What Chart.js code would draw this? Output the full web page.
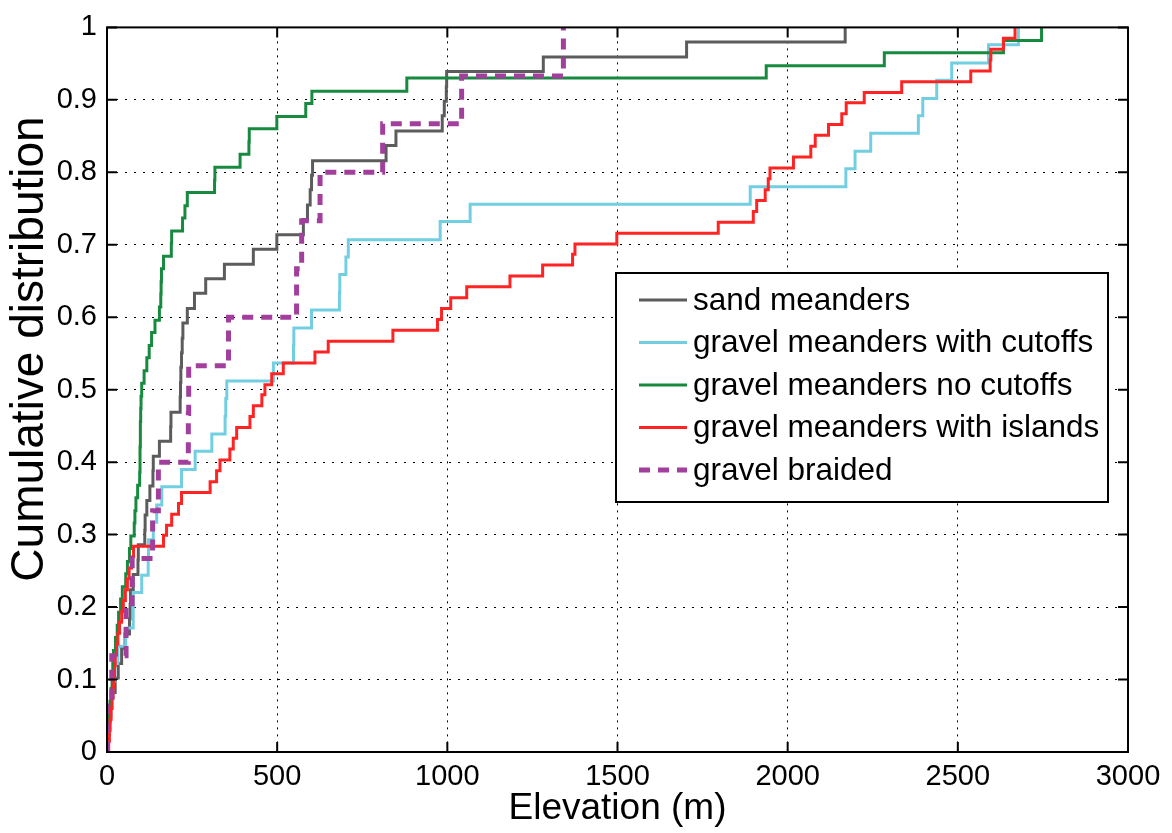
<!DOCTYPE html>
<html>
<head>
<meta charset="utf-8">
<script src="https://cdn.jsdelivr.net/npm/chart.js@4.4.1/dist/chart.umd.min.js"></script>
<style>
  body { margin: 0; background: #fff; }
  #wrap { width: 1172px; height: 833px; position: relative; }
</style>
</head>
<body>
<div id="wrap"><canvas id="chart"></canvas></div>
<script>
// Empirical CDFs: each x is where the step up happens, each y the level reached there
const sandX = [0, 2, 5, 9, 13, 24, 33, 43, 53, 66, 68, 69, 77, 91, 92, 111, 112, 117, 126, 135, 136, 154, 187, 188, 215, 216, 217, 219, 221, 223, 236, 257, 290, 345, 430, 499, 577, 589, 597, 601, 604, 820, 849, 985, 991, 997, 998, 1282, 1703, 2169];
const sandY = [0, .020, .041, .061, .082, .102, .122, .143, .163, .184, .204, .224, .245, .265, .286, .306, .327, .347, .367, .388, .408, .429, .449, .469, .490, .510, .531, .551, .571, .592, .612, .633, .653, .673, .694, .714, .735, .755, .776, .796, .816, .837, .857, .878, .898, .918, .939, .959, .980, 1];

const cutoffX = [0, 4, 8, 12, 17, 23, 32, 55, 77, 77, 102, 121, 122, 136, 146, 161, 219, 259, 308, 347, 349, 352, 489, 548, 549, 601, 683, 684, 702, 709, 979, 1067, 1890, 2171, 2198, 2244, 2384, 2397, 2438, 2482, 2590, 2678];
const cutoffY = [0, .024, .049, .073, .098, .122, .146, .171, .195, .220, .244, .268, .293, .317, .341, .366, .390, .415, .439, .463, .488, .512, .537, .561, .585, .610, .634, .659, .683, .707, .732, .756, .780, .805, .829, .854, .878, .902, .927, .951, .976, 1];

const noCutoffX = [0, 3, 5, 7, 9, 12, 15, 17, 19, 25, 30, 34, 40, 45, 55, 60, 66, 70, 80, 82, 85, 90, 96, 97, 97, 98, 98, 99, 100, 102, 109, 117, 124, 131, 141, 154, 158, 159, 160, 166, 189, 190, 222, 229, 236, 316, 317, 391, 417, 418, 499, 584, 602, 881, 1937, 2284, 2634, 2746];
const noCutoffY = [0, .018, .035, .053, .070, .088, .105, .123, .140, .158, .175, .193, .211, .228, .246, .263, .281, .298, .316, .333, .351, .368, .386, .404, .421, .439, .456, .474, .491, .509, .526, .544, .561, .579, .596, .614, .632, .649, .667, .684, .702, .719, .737, .754, .772, .789, .807, .825, .842, .860, .877, .895, .912, .930, .947, .965, .982, 1];

const islandX = [0, 5, 7, 9, 12, 15, 18, 20, 22, 24, 28, 32, 37, 43, 48, 54, 60, 65, 72, 78, 166, 175, 190, 210, 219, 303, 322, 332, 361, 371, 381, 420, 430, 455, 464, 484, 518, 611, 650, 840, 971, 983, 1010, 1057, 1184, 1280, 1368, 1375, 1498, 1796, 1899, 1909, 1934, 1943, 1948, 2017, 2068, 2081, 2120, 2159, 2172, 2225, 2335, 2538, 2595, 2597, 2634, 2668];
const islandY = [0, .015, .030, .045, .060, .075, .090, .104, .119, .134, .149, .164, .179, .194, .209, .224, .239, .254, .269, .284, .299, .313, .328, .343, .358, .373, .388, .403, .418, .433, .448, .463, .478, .493, .507, .522, .537, .552, .567, .582, .597, .612, .627, .642, .657, .672, .687, .701, .716, .731, .746, .761, .776, .791, .806, .821, .836, .851, .866, .881, .896, .910, .925, .940, .955, .970, .985, 1];

const braidedX = [0, 1, 14, 56, 74, 134, 151, 239, 240, 357, 557, 572, 626, 810, 1042, 1341];
const braidedY = [0, .067, .133, .200, .267, .333, .400, .467, .533, .600, .667, .733, .800, .867, .933, 1];

const xTicks = [0, 500, 1000, 1500, 2000, 2500, 3000];
const FONT = '"Liberation Sans", Arial, sans-serif';

function toPoints(xs, ys) {
  return xs.map((x, i) => ({x: x, y: ys[i]}));
}

// box round the plot with inward tick marks, like the original
const frame = {
  id: 'frame',
  afterDatasetsDraw(chart) {
    const {ctx, chartArea: a, scales: {x, y}} = chart;
    ctx.save();
    ctx.strokeStyle = '#000';
    ctx.lineWidth = 2;
    ctx.beginPath();
    x.ticks.forEach(t => {
      const px = x.getPixelForValue(t.value);
      ctx.moveTo(px, a.bottom); ctx.lineTo(px, a.bottom - 10);
      ctx.moveTo(px, a.top); ctx.lineTo(px, a.top + 10);
    });
    y.ticks.forEach(t => {
      const py = y.getPixelForValue(t.value);
      ctx.moveTo(a.left, py); ctx.lineTo(a.left + 10, py);
      ctx.moveTo(a.right, py); ctx.lineTo(a.right - 10, py);
    });
    ctx.stroke();
    ctx.strokeRect(a.left, a.top, a.right - a.left, a.bottom - a.top);
    ctx.restore();
  }
};

// legend box inside the plot, plus the y title (sits a bit above the axis centre in the original)
const boxLegend = {
  id: 'boxLegend',
  afterDraw(chart) {
    const ctx = chart.ctx;
    const left = 616, top = 273, w = 492, h = 229;
    ctx.save();
    ctx.fillStyle = '#fff';
    ctx.fillRect(left, top, w, h);
    ctx.strokeStyle = '#000';
    ctx.lineWidth = 2;
    ctx.strokeRect(left, top, w, h);
    ctx.font = '31.5px ' + FONT;
    ctx.textBaseline = 'middle';
    ctx.fillStyle = '#000';
    chart.data.datasets.forEach((ds, i) => {
      const yy = top + 27 + i * 42.5;
      ctx.strokeStyle = ds.borderColor;
      ctx.lineWidth = ds.borderWidth;
      ctx.setLineDash(ds.borderDash || []);
      ctx.beginPath();
      ctx.moveTo(left + 23, yy);
      ctx.lineTo(left + 71, yy);
      ctx.stroke();
      ctx.setLineDash([]);
      ctx.fillText(ds.label, left + 77, yy + 1);
    });

    ctx.translate(30, 349);
    ctx.rotate(-Math.PI / 2);
    ctx.font = '46px ' + FONT;
    ctx.textAlign = 'center';
    ctx.fillText('Cumulative distribution', 0, 0);
    ctx.restore();
  }
};

function line(label, xs, ys, color, width, order, dash) {
  return {
    label: label,
    data: toPoints(xs, ys),
    borderColor: color,
    borderWidth: width,
    borderDash: dash || [],
    stepped: true,
    pointRadius: 0,
    fill: false,
    order: order
  };
}

new Chart(document.getElementById('chart'), {
  type: 'line',
  data: {
    datasets: [
      line('sand meanders', sandX, sandY, '#5c5c5c', 3, 5),
      line('gravel meanders with cutoffs', cutoffX, cutoffY, '#72cfe1', 3, 4),
      line('gravel meanders no cutoffs', noCutoffX, noCutoffY, '#178a40', 3, 3),
      line('gravel meanders with islands', islandX, islandY, '#ff2424', 3, 2),
      line('gravel braided', braidedX, braidedY, '#a23f9d', 5, 1, [11, 8])
    ]
  },
  options: {
    responsive: true,
    maintainAspectRatio: false,
    animation: false,
    devicePixelRatio: 1,
    layout: {padding: {top: 19, right: 44, left: 0, bottom: 0}},
    plugins: {legend: {display: false}, tooltip: {enabled: false}},
    scales: {
      x: {
        type: 'linear',
        min: 0,
        max: 3000,
        afterFit: s => { s.height = 81; },
        afterBuildTicks: s => { s.ticks = xTicks.map(v => ({value: v})); },
        ticks: {
          padding: 8,
          color: '#000',
          font: {family: FONT, size: 29},
          maxRotation: 0,
          callback: v => String(v)
        },
        grid: {color: '#000', lineWidth: 1, drawTicks: false},
        border: {display: false, dash: [2, 5]},
        title: {
          display: true,
          text: 'Elevation (m)',
          color: '#000',
          font: {family: FONT, size: 37, lineHeight: 1},
          padding: {top: 0, bottom: 6}
        }
      },
      y: {
        min: 0,
        max: 1,
        afterFit: s => { s.width = 107; },
        ticks: {
          stepSize: 0.1,
          padding: 10,
          color: '#000',
          font: {family: FONT, size: 29},
          callback: v => String(Number(v.toFixed(1)))
        },
        grid: {color: '#000', lineWidth: 1, drawTicks: false},
        border: {display: false, dash: [2, 7]}
      }
    }
  },
  plugins: [frame, boxLegend]
});
</script>
</body>
</html>
